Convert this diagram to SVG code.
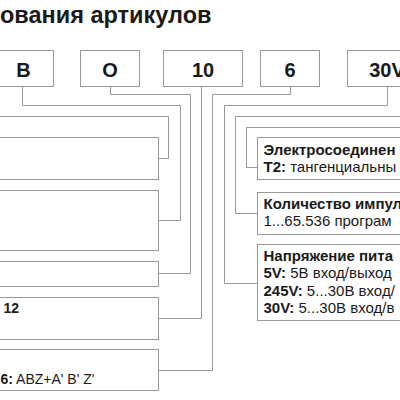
<svg xmlns="http://www.w3.org/2000/svg" width="400" height="400" viewBox="0 0 400 400">
<style>
.box{fill:#fff;stroke:#999;stroke-width:1}
.ln{fill:none;stroke:#999;stroke-width:1}
text{font-family:"Liberation Sans",Arial,sans-serif;fill:#1a1a1a}
.code{font-weight:bold;text-anchor:middle}
.b{font-weight:bold}
</style>
<rect width="400" height="400" fill="#fff"/>
<text id="title" x="0" y="23" font-size="23.5" font-weight="bold">ования артикулов</text>
<g id="connectors" class="ln">
<path d="M-5 116.5H168.5V158.5H158.5"/>
<path d="M22.5 86.5V105.5H180.5V220.5H158.5"/>
<path d="M110.5 86.5V94.5H190.5V273.5H158.5"/>
<path d="M201.5 86.5V318.5H158.5"/>
<path d="M290.5 86.5V94.5H212.5V370.5H158.5"/>
<path d="M387.5 86.5V105.5H224.5V283.5H257.5"/>
<path d="M405 116.5H235.5V213.5H257.5"/>
<path d="M405 127.5H246.5V167.5H257.5"/>
</g>
<g id="code-B"><rect class="box" x="-6.5" y="50.5" width="60" height="36"/><text class="code" font-size="20" x="23.5" y="77">B</text></g>
<g id="code-O"><rect class="box" x="80.5" y="50.5" width="59" height="36"/><text class="code" font-size="20" x="110" y="77">O</text></g>
<g id="code-10"><rect class="box" x="163.5" y="50.5" width="79" height="36"/><text class="code" font-size="20" x="203" y="77">10</text></g>
<g id="code-6"><rect class="box" x="260.5" y="50.5" width="59" height="36"/><text class="code" font-size="20" x="290" y="77">6</text></g>
<g id="code-30V"><rect class="box" x="347.5" y="50.5" width="79" height="36"/><text class="code" font-size="20" x="387" y="77">30V</text></g>
<g id="left-1"><rect class="box" x="-10.5" y="137.5" width="169" height="42"/></g>
<g id="left-2"><rect class="box" x="-10.5" y="190.5" width="169" height="60"/></g>
<g id="left-3"><rect class="box" x="-10.5" y="261.5" width="169" height="25"/></g>
<g id="left-4"><rect class="box" x="-10.5" y="297.5" width="169" height="42"/><text class="b" font-size="14" x="3.5" y="312.7">12</text></g>
<g id="left-5"><rect class="box" x="-10.5" y="349.5" width="169" height="41"/><text font-size="14" x="0.5" y="384"><tspan class="b">6:</tspan> ABZ+A' B' Z'</text></g>
<g id="right-1"><rect class="box" x="257.5" y="137.5" width="170" height="42"/>
<text font-size="15" x="263.5" y="154.7"><tspan class="b">Электросоединен</tspan></text>
<text font-size="15" x="263.5" y="171.7"><tspan class="b">T2:</tspan> тангенциальны</text></g>
<g id="right-2"><rect class="box" x="257.5" y="192.5" width="170" height="42"/>
<text font-size="15" x="263.5" y="208.5"><tspan class="b">Количество импул</tspan></text>
<text font-size="15" x="263.5" y="225.5">1...65.536 програм</text></g>
<g id="right-3"><rect class="box" x="257.5" y="244.5" width="170" height="76"/>
<text font-size="15" x="263.5" y="261"><tspan class="b">Напряжение пита</tspan></text>
<text font-size="15" x="263.5" y="278.3"><tspan class="b">5V:</tspan> 5В вход/выход</text>
<text font-size="15" x="263.5" y="295.6"><tspan class="b">245V:</tspan> 5...30В вход/</text>
<text font-size="15" x="263.5" y="312.9"><tspan class="b">30V:</tspan> 5...30В вход/в</text></g>
</svg>
